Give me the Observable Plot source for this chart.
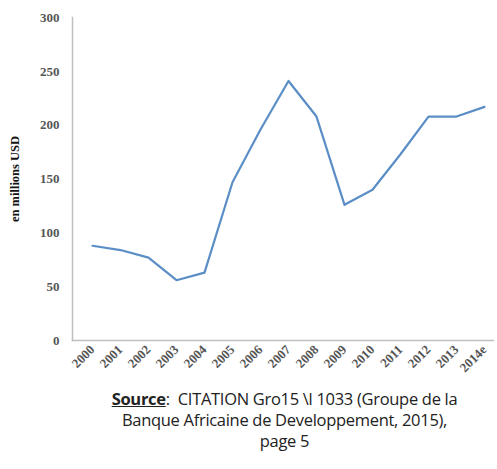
<!DOCTYPE html>
<html>
<head>
<meta charset="utf-8">
<script src="https://cdn.jsdelivr.net/npm/d3@7"></script>
<script src="https://cdn.jsdelivr.net/npm/@observablehq/plot@0.6"></script>
<style>
  body { margin: 0; background: #fff; }
  #chart { width: 497px; }
  #caption { margin-left: 72px; width: 425px; text-align: center; font-family: "Open Sans", sans-serif; font-size: 16.5px; line-height: 21px; color: #222; margin-top: 3px; letter-spacing: -0.3px; }
  #caption b { text-decoration: underline; }
  svg [aria-label="y-axis label"] text, svg [aria-label="y-axis label"] { font-weight: bold; font-family: "Liberation Serif", serif; font-size: 12.5px; fill: #111; }
  svg [aria-label="y-axis tick label"] { font-size: 13px; font-weight: 600; }
  svg [aria-label="x-axis tick label"] { font-size: 13px; font-weight: 600; }
</style>
</head>
<body>
<div id="chart"></div>
<div id="caption"><b>Source</b>:&nbsp; CITATION Gro15 \l 1033 (Groupe de la<br>Banque Africaine de Developpement, 2015),<br>page 5</div>
<script>
const years = ["2000","2001","2002","2003","2004","2005","2006","2007","2008","2009","2010","2011","2012","2013","2014e"];
const values = [88, 84, 77, 56, 63, 147, 196, 241, 208, 126, 140, 173, 208, 208, 217];
const yTicks = [0, 50, 100, 150, 200, 250, 300];

const data = years.map((y, i) => ({year: y, value: values[i]}));

const plot = Plot.plot({
  width: 497,
  height: 385,
  marginLeft: 72,
  marginRight: 4,
  marginTop: 17,
  marginBottom: 45,
  style: {fontFamily: "Liberation Serif, serif", fontSize: "11px", color: "#555"},
  x: {type: "point", domain: years, range: [86, 490], padding: 0, label: null},
  y: {domain: [0, 300], ticks: yTicks, label: "en millions USD", labelAnchor: "center", labelOffset: 62, labelArrow: "none"},
  marks: [
    Plot.frame({anchor: "left", stroke: "#c0c0c0", strokeWidth: 1.5}),
    Plot.frame({anchor: "bottom", stroke: "#c0c0c0", strokeWidth: 1.5}),
    Plot.axisY({ticks: yTicks, tickSize: 0, tickPadding: 13, label: "en millions USD", labelAnchor: "center", labelOffset: 62, labelArrow: "none", fill: "#555"}),
    Plot.axisX({tickSize: 0, tickRotate: -45, tickPadding: 7, label: null, fill: "#555"}),
    Plot.line(data, {x: "year", y: "value", stroke: "#5b8ec6", strokeWidth: 2.2})
  ]
});
document.getElementById("chart").appendChild(plot);
</script>
</body>
</html>
